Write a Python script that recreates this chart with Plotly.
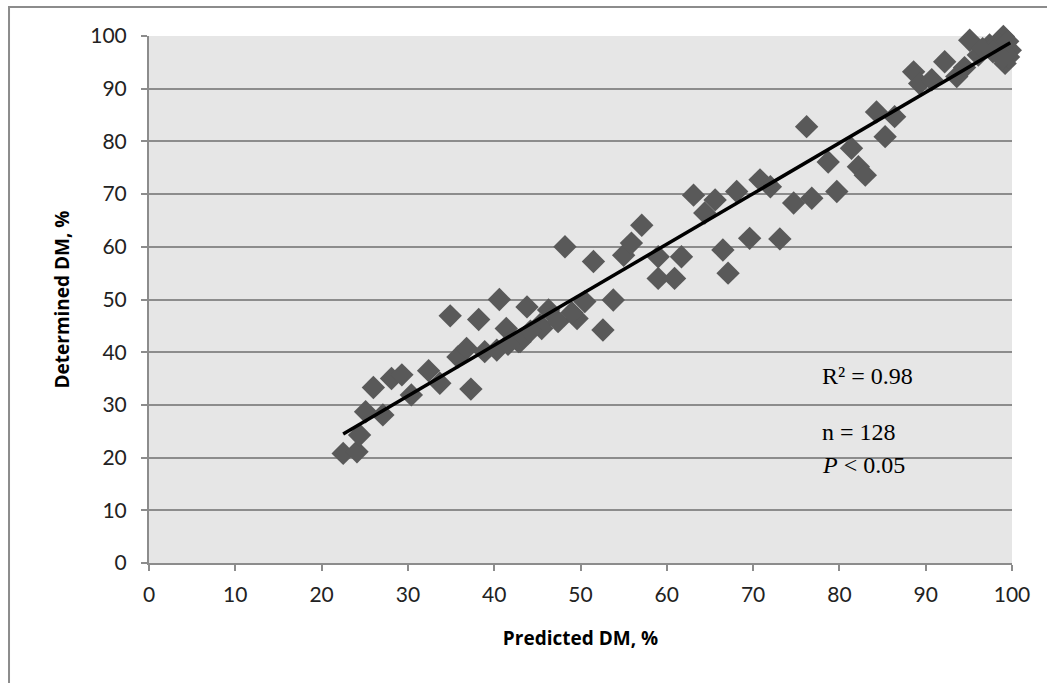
import numpy as np
import plotly.graph_objects as go

predicted = [22.5, 24.1, 24.4, 25.1, 26.0, 27.1, 28.1, 29.3, 30.4, 32.4, 33.7, 34.9, 35.8, 36.8,
             37.3, 38.2, 38.9, 40.6, 40.3, 41.4, 42.8, 43.8, 45.3, 43.0, 45.5, 46.3, 47.4, 49.6,
             50.5, 52.6, 53.8, 48.2, 51.5, 55.0, 55.9, 57.1, 59.0, 59.0, 60.9, 61.7, 63.1, 64.4,
             65.6, 66.5, 67.1, 68.1, 69.6, 70.8, 72.0, 73.1, 74.7, 76.8, 79.7, 76.2, 78.7, 81.4,
             82.2, 83.0, 84.3, 85.3, 86.4, 88.6, 89.3, 90.7, 92.2, 93.6, 95.1, 96.1, 97.4, 99.0,
             99.2, 99.8, 94.5, 96.6, 98.4, 99.5, 99.6, 97.8, 98.9, 44.2, 49.0, 41.6]
determined = [20.8, 21.1, 24.3, 28.7, 33.3, 28.1, 35.0, 35.7, 31.9, 36.5, 34.1, 46.9, 39.1, 40.7,
              33.0, 46.2, 40.1, 50.0, 40.4, 44.5, 42.0, 48.6, 45.2, 42.0, 44.5, 48.0, 45.8, 46.4,
              49.6, 44.2, 49.9, 60.0, 57.2, 58.4, 60.7, 64.1, 58.1, 54.0, 54.0, 58.1, 69.8, 66.4,
              68.9, 59.4, 55.0, 70.5, 61.6, 72.7, 71.4, 61.5, 68.3, 69.2, 70.5, 82.8, 76.1, 78.7,
              75.2, 73.6, 85.6, 80.9, 84.7, 93.2, 91.0, 91.7, 95.1, 92.3, 99.2, 96.4, 98.3, 99.9,
              94.8, 97.3, 94.0, 97.6, 98.8, 99.0, 96.0, 97.0, 95.8, 44.0, 47.5, 41.5]

# linear trendline coefficients
trend_slope = 0.96
trend_intercept = 2.9

r2_text = "R² = 0.98"
n_text = "n = 128"
p_text = "<i>P</i> < 0.05"
ticks = list(range(0, 101, 10))

x_line = np.array([min(predicted), max(predicted)])
y_line = trend_slope * x_line + trend_intercept

fig = go.Figure()
fig.add_trace(go.Scatter(
    x=predicted, y=determined, mode="markers", cliponaxis=False,
    marker=dict(symbol="diamond", size=18, color="#595959", line=dict(width=0)),
    showlegend=False, hoverinfo="x+y"))
fig.add_trace(go.Scatter(
    x=x_line, y=y_line, mode="lines", cliponaxis=False,
    line=dict(color="black", width=3.5), showlegend=False, hoverinfo="skip"))

tickfont = dict(family="Lato, Open Sans, sans-serif", size=21, color="#222")
titlefont = dict(family="Open Sans, sans-serif", size=19, color="black")
annfont = dict(family="Liberation Serif", size=24, color="black")

fig.update_layout(
    width=1047, height=683,
    margin=dict(l=149, r=35, t=36, b=120),
    paper_bgcolor="white", plot_bgcolor="#e6e6e6",
    xaxis=dict(range=[0, 100], tickvals=ticks, showgrid=False, zeroline=False,
               showline=True, linecolor="#8c8c8c", linewidth=2,
               ticks="outside", ticklen=6, tickwidth=2, tickcolor="#8c8c8c",
               tickfont=tickfont, ticklabelstandoff=6,
               title=dict(text="<b>Predicted DM, %</b>", font=titlefont, standoff=26)),
    yaxis=dict(range=[0, 100], tickvals=ticks, showgrid=True, gridcolor="#8c8c8c", gridwidth=2,
               zeroline=False, showline=True, linecolor="#8c8c8c", linewidth=2,
               ticks="outside", ticklen=6, tickwidth=2, tickcolor="#8c8c8c",
               tickfont=tickfont, ticklabelstandoff=10,
               title=dict(text="<b>Determined DM, %</b>", font=titlefont, standoff=16)),
    shapes=[dict(type="rect", xref="paper", yref="paper",
                 x0=-0.1622, y0=-0.4, x1=1.2, y1=1.055,
                 line=dict(color="#8c8c8c", width=2), layer="below")],
    annotations=[
        dict(x=77.8, y=35.5, xref="x", yref="y", text=r2_text, showarrow=False,
             xanchor="left", yanchor="middle", font=annfont),
        dict(x=77.8, y=24.8, xref="x", yref="y", text=n_text, showarrow=False,
             xanchor="left", yanchor="middle", font=annfont),
        dict(x=77.8, y=18.6, xref="x", yref="y", text=p_text, showarrow=False,
             xanchor="left", yanchor="middle", font=annfont),
    ],
)

fig.write_html("out.html")
